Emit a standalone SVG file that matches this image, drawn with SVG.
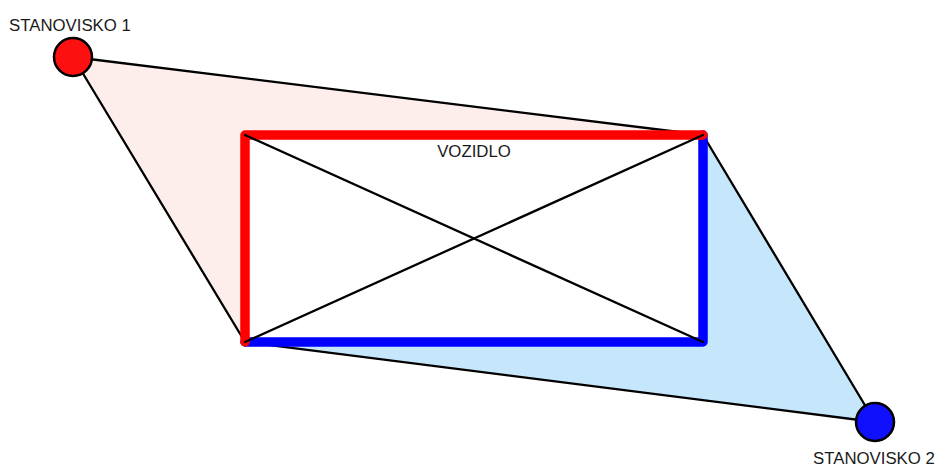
<svg xmlns="http://www.w3.org/2000/svg" width="940" height="468" viewBox="0 0 940 468">
<style>
.lbl{font-family:"Liberation Sans",Arial,sans-serif;font-size:16.8px;fill:#1a1a1a}
.ln{stroke:#000;stroke-width:2.3;fill:none;stroke-linecap:round}
.st{stroke:#000;stroke-width:2.5}
</style>
<rect width="940" height="468" fill="#fff"/>
<g id="areas">
<polygon points="73,57 703,135 245,342" fill="#fdeeeb"/>
<polygon points="875,422 703,135 245,342" fill="#c6e6fb"/>
<rect x="245" y="135" width="458" height="207" fill="#fff"/>
</g>
<g id="connectors">
<line class="ln" x1="73" y1="57" x2="703" y2="135"/>
<line class="ln" x1="73" y1="57" x2="245" y2="342"/>
<line class="ln" x1="875" y1="422" x2="703" y2="135"/>
<line class="ln" x1="875" y1="422" x2="245" y2="342"/>
</g>
<g id="vozidlo">
<path d="M703,135 V342 H245" fill="none" stroke="#0000ff" stroke-width="9.5" stroke-linejoin="round" stroke-linecap="round"/>
<path d="M245,342 V135 H703" fill="none" stroke="#ff0000" stroke-width="9.5" stroke-linejoin="round" stroke-linecap="round"/>
<line class="ln" x1="245" y1="135" x2="703" y2="342"/>
<line class="ln" x1="703" y1="135" x2="245" y2="342"/>
<text class="lbl" x="474" y="157" text-anchor="middle">VOZIDLO</text>
</g>
<g id="stanovisko1">
<circle class="st" cx="73" cy="57" r="19" fill="#ff1010"/>
<text class="lbl" x="9" y="31">STANOVISKO 1</text>
</g>
<g id="stanovisko2">
<circle class="st" cx="875" cy="422" r="19" fill="#1010ff"/>
<text class="lbl" x="813" y="464">STANOVISKO 2</text>
</g>
</svg>
